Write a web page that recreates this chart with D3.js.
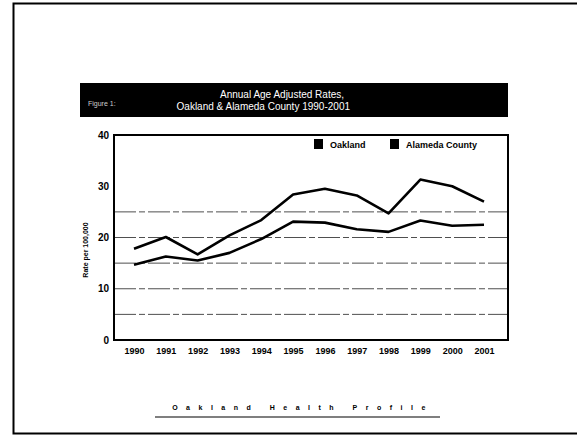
<!DOCTYPE html>
<html>
<head>
<meta charset="utf-8">
<script src="https://cdn.jsdelivr.net/npm/d3@7"></script>
<style>
  body { margin: 0; background: #fff; }
  svg { display: block; }
  .tick text { font-family: "Liberation Sans Narrow", "Liberation Sans", sans-serif; font-weight: bold; }
</style>
</head>
<body>
<svg id="chart" width="577" height="438"></svg>
<script>
// chart values
var years = [1990, 1991, 1992, 1993, 1994, 1995, 1996, 1997, 1998, 1999, 2000, 2001];
var oakland = [17.8, 20.1, 16.7, 20.4, 23.4, 28.4, 29.5, 28.2, 24.7, 31.3, 30.0, 27.0];
var alameda = [14.7, 16.3, 15.5, 17.0, 19.7, 23.1, 22.9, 21.6, 21.1, 23.3, 22.3, 22.5];
var seriesNames = ["Oakland", "Alameda County"];
var yTicks = [0, 10, 20, 30, 40];
var gridValues = [5, 10, 15, 20, 25];

(function(){
    var svg = d3.select('#chart');

    // scanned page frame
    svg.append('path')
        .attr('d', 'M577,3.5 H13.5 V433.5 H577')
        .attr('fill', 'none')
        .attr('stroke', '#000')
        .attr('stroke-width', 2);

    // title band
    svg.append('rect')
        .attr('x', 80).attr('y', 83)
        .attr('width', 428).attr('height', 34)
        .attr('fill', '#000');
    var title = svg.append('g')
        .attr('fill', '#fff')
        .attr('font-family', '"Liberation Sans", sans-serif')
        .attr('font-size', 10);
    title.append('text').attr('x', 88).attr('y', 106).attr('font-size', 7).attr('fill', '#ccc').text('Figure 1:');
    title.append('text').attr('x', 344).attr('y', 98).attr('text-anchor', 'end').text('Annual Age Adjusted Rates,');
    title.append('text').attr('x', 350).attr('y', 110).attr('text-anchor', 'end').text('Oakland & Alameda County 1990-2001');

    var left = 114, right = 508, top = 135, bottom = 340;

    var x = d3.scalePoint().domain(years).range([134, 484]);
    var y = d3.scaleLinear().domain([0, 40]).range([bottom, top]);

    // gridlines
    svg.append('g').selectAll('line')
        .data(gridValues)
        .enter().append('line')
        .attr('x1', left).attr('x2', right)
        .attr('y1', function(d) { return y(d); })
        .attr('y2', function(d) { return y(d); })
        .attr('stroke', '#222')
        .attr('stroke-width', 0.8)
        .attr('stroke-dasharray', '22,3,6,3');

    // plot box
    svg.append('rect')
        .attr('x', left).attr('y', top)
        .attr('width', right - left).attr('height', bottom - top)
        .attr('fill', 'none')
        .attr('stroke', '#000')
        .attr('stroke-width', 2);

    // y axis
    var yAxis = svg.append('g')
        .attr('transform', 'translate(' + left + ',0)')
        .call(d3.axisLeft(y).tickValues(yTicks).tickSize(0).tickPadding(5));
    yAxis.select('.domain').remove();
    yAxis.selectAll('text').attr('font-size', 10).attr('fill', '#000');

    // x axis
    var xAxis = svg.append('g')
        .attr('transform', 'translate(0,' + bottom + ')')
        .call(d3.axisBottom(x).tickSize(0).tickPadding(8));
    xAxis.select('.domain').remove();
    xAxis.selectAll('text').attr('font-size', 9).attr('fill', '#000');

    svg.append('text')
        .attr('transform', 'translate(88,250) rotate(-90)')
        .attr('text-anchor', 'middle')
        .attr('font-family', '"Liberation Sans Narrow", "Liberation Sans", sans-serif')
        .attr('font-weight', 'bold')
        .attr('font-size', 7)
        .text('Rate per 100,000');

    // lines
    var line = d3.line()
        .x(function(d, i) { return x(years[i]); })
        .y(function(d) { return y(d); });
    [oakland, alameda].forEach(function(s) {
        svg.append('path')
            .datum(s)
            .attr('d', line)
            .attr('fill', 'none')
            .attr('stroke', '#000')
            .attr('stroke-width', 2.6)
            .attr('stroke-linejoin', 'round');
    });

    // legend
    var legendX = [314, 390];
    var legend = svg.append('g').selectAll('g')
        .data(seriesNames)
        .enter().append('g')
        .attr('transform', function(d, i) { return 'translate(' + legendX[i] + ',139)'; });
    legend.append('rect').attr('width', 9).attr('height', 10).attr('fill', '#000');
    legend.append('text')
        .attr('x', 16).attr('y', 9)
        .attr('font-family', '"Liberation Sans Narrow", "Liberation Sans", sans-serif')
        .attr('font-weight', 'bold')
        .attr('font-size', 9)
        .text(function(d) { return d; });

    // footer
    svg.append('text')
        .attr('x', 303).attr('y', 410)
        .attr('text-anchor', 'middle')
        .attr('font-family', '"Liberation Sans", sans-serif')
        .attr('font-weight', 'bold')
        .attr('font-size', 7)
        .attr('letter-spacing', 8.5)
        .text('Oakland Health Profile');
    svg.append('line')
        .attr('x1', 155).attr('x2', 440)
        .attr('y1', 417).attr('y2', 417)
        .attr('stroke', '#000').attr('stroke-width', 1.2);
})();
</script>
</body>
</html>
